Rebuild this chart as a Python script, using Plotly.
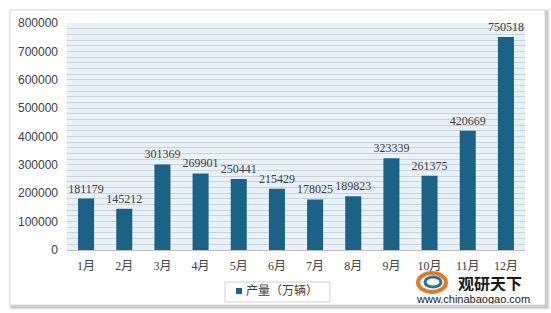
import plotly.graph_objects as go

months = ["1月", "2月", "3月", "4月", "5月", "6月", "7月", "8月", "9月", "10月", "11月", "12月"]
values = [181179, 145212, 301369, 269901, 250441, 215429, 178025, 189823, 323339, 261375, 420669, 750518]
series_name = "产量（万辆）"
y_ticks = [0, 100000, 200000, 300000, 400000, 500000, 600000, 700000, 800000]

W, H = 551, 313
L, R, T, B = 67, 26, 23, 63
pw, ph = W - L - R, H - T - B
bar_color = "#1b6386"

def px_x(x):
    return (x - L) / pw

def px_y(y):
    return (H - B - y) / ph

serif = "Liberation Serif, Noto Sans CJK SC, serif"

fig = go.Figure()
fig.add_trace(go.Bar(
    x=months, y=values, name=series_name,
    marker=dict(color=bar_color, line=dict(width=0)),
    text=[str(v) for v in values], textposition="outside",
    textfont=dict(family=serif, size=12, color="#404040"),
    constraintext="none",
    cliponaxis=False,
    showlegend=False,
))

def rect(x0, x1, y0, y1, **kw):
    d = dict(type="rect", xref="paper", yref="paper",
             x0=px_x(x0), x1=px_x(x1), y0=px_y(y1), y1=px_y(y0))
    d.update(kw)
    return d

shapes = []
# frame shadow
for i, op in enumerate([0.05, 0.07, 0.09]):
    d = 3 - i
    shapes.append(rect(10 - d + 2, 545 + d + 2, 10 - d + 2, 305 + d + 2, layer="below",
                       line=dict(width=0), fillcolor=f"rgba(0,0,0,{op})"))
shapes.append(rect(10, 545, 10, 305, layer="below",
                   line=dict(width=1, color="#d9d9d9"), fillcolor="white"))
# plot background
shapes.append(dict(type="rect", xref="paper", yref="paper", layer="below",
                   x0=0, x1=1, y0=0, y1=1, line=dict(width=0), fillcolor="#e9f2f9"))
# legend box and swatch
shapes.append(rect(225, 330, 282, 302, line=dict(width=1, color="#d0d0d0"), fillcolor="white"))
shapes.append(rect(236, 242, 288, 294, line=dict(width=0), fillcolor=bar_color))
# watermark logo (simple swirl)
shapes.append(dict(type="circle", xref="paper", yref="paper",
                   x0=px_x(418), x1=px_x(446), y0=px_y(292), y1=px_y(273),
                   line=dict(width=4, color="#e87722"), fillcolor="rgba(0,0,0,0)"))
shapes.append(dict(type="circle", xref="paper", yref="paper",
                   x0=px_x(425), x1=px_x(441), y0=px_y(287), y1=px_y(277),
                   line=dict(width=3, color="#1f6fa8"), fillcolor="rgba(0,0,0,0)"))

annotations = [
    dict(xref="paper", yref="paper", x=px_x(244), y=px_y(291), text=series_name,
         xanchor="left", yanchor="middle", showarrow=False,
         font=dict(family=serif, size=12, color="#404040")),
    dict(xref="paper", yref="paper", x=px_x(490), y=px_y(282), text="<b>观研天下</b>",
         xanchor="center", yanchor="middle", height=17, valign="middle",
         showarrow=False, font=dict(family="Noto Sans CJK SC", size=16, color="#1a1a1a")),
    dict(xref="paper", yref="paper", x=px_x(473), y=px_y(298), text="www.chinabaogao.com",
         xanchor="center", yanchor="middle", height=11, valign="middle",
         showarrow=False, font=dict(family="Liberation Sans, Arial", size=11, color="#222222")),
]

fig.update_layout(
    width=W, height=H,
    margin=dict(l=L, r=R, t=T, b=B, autoexpand=False),
    paper_bgcolor="white",
    plot_bgcolor="rgba(0,0,0,0)",
    bargap=0.58,
    showlegend=False,
    xaxis=dict(showgrid=False, tickfont=dict(family=serif, size=12, color="#404040"),
               showline=True, linecolor="#bfbfbf", ticks="", ticklabelstandoff=5),
    yaxis=dict(range=[0, 800000], tickvals=y_ticks, ticktext=[str(v) for v in y_ticks],
               tickfont=dict(family="Liberation Sans, Arial", size=12, color="#404040"),
               showgrid=True, gridcolor="#c9d3dc", gridwidth=1,
               minor=dict(dtick=20000, showgrid=True, gridcolor="#c9d3dc", gridwidth=1),
               zeroline=False, ticks="", ticklabelstandoff=8),
    shapes=shapes,
    annotations=annotations,
)

fig.write_html("out.html")
